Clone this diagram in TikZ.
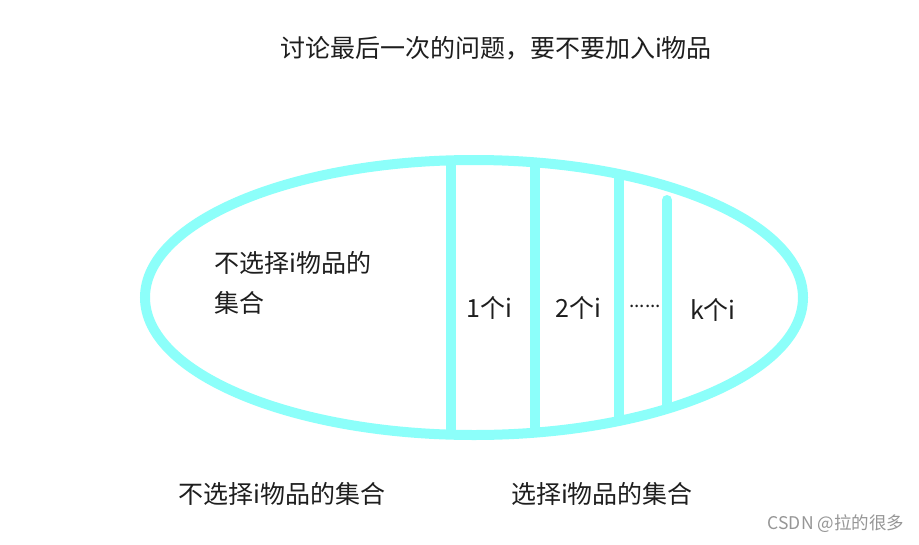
\documentclass[tikz,border=0pt]{standalone}
\usepackage{fontspec}
\usetikzlibrary{shapes.geometric}
\setmainfont{Noto Sans CJK SC}
\begin{document}
\begin{tikzpicture}[x=1pt,y=-1pt,
  wall/.style={draw=setcyan,line width=10pt},
  lbl/.style={text=textgray,font=\fontsize{25}{29}\selectfont,inner sep=0pt,anchor=center},
  wmark/.style={text=markgray,font=\fontsize{17.5}{20}\selectfont,inner sep=0pt}]
\definecolor{setcyan}{RGB}{140,255,250}
\definecolor{textgray}{RGB}{30,30,30}
\definecolor{markgray}{RGB}{150,150,150}
\useasboundingbox[fill=white] (0,0) rectangle (919,544);
% outer set
\node[wall,ellipse,draw,minimum width=658pt,minimum height=275pt,inner sep=0pt] (set) at (474,297.5) {};
% partition walls
\coordinate (w1t) at (451,160.5); \coordinate (w1b) at (451,434.5);
\coordinate (w2t) at (535,162.5); \coordinate (w2b) at (535,432.5);
\coordinate (w3t) at (619,175);   \coordinate (w3b) at (619,420);
\coordinate (w4t) at (667,200);   \coordinate (w4b) at (667,408);
\draw[wall] (w1t) -- (w1b);
\draw[wall] (w2t) -- (w2b);
\draw[wall] (w3t) -- (w3b);
\draw[wall,line cap=round] (w4t) -- (w4b);
% texts
\node[lbl] (title) at (496,48) {讨论最后一次的问题，要不要加入i物品};
\node[lbl,anchor=west] (no1) at (214,263) {不选择i物品的};
\node[lbl,anchor=west] (no2) at (214,303) {集合};
\node[lbl] (one) at (489,308) {1个i};
\node[lbl] (two) at (578,308) {2个i};
\node[text=textgray,font=\fontsize{19}{22}\selectfont,inner sep=0pt] (dots) at (645,306) {......};
\node[lbl] (kk) at (713,310) {k个i};
\node[lbl] (bl) at (282,494) {不选择i物品的集合};
\node[lbl] (br) at (602,494) {选择i物品的集合};
\node[wmark] (wm) at (836,524) {CSDN @拉的很多};
\end{tikzpicture}
\end{document}
